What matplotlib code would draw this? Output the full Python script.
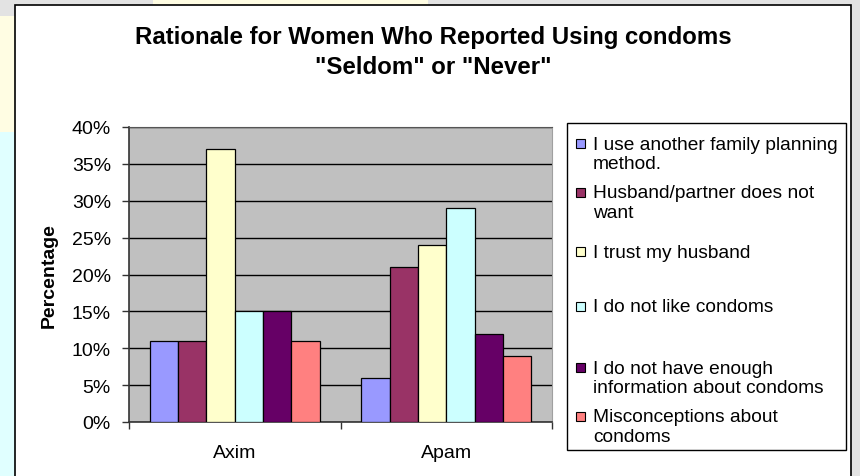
import matplotlib
matplotlib.use("Agg")
import matplotlib.pyplot as plt
from matplotlib.patches import Rectangle
import numpy as np

categories = ["Axim", "Apam"]
series_names = [
    "I use another family planning\nmethod.",
    "Husband/partner does not\nwant",
    "I trust my husband",
    "I do not like condoms",
    "I do not have enough\ninformation about condoms",
    "Misconceptions about\ncondoms",
]
values = {
    "I use another family planning\nmethod.": [11, 6],
    "Husband/partner does not\nwant": [11, 21],
    "I trust my husband": [37, 24],
    "I do not like condoms": [15, 29],
    "I do not have enough\ninformation about condoms": [15, 12],
    "Misconceptions about\ncondoms": [11, 9],
}
colors = ["#9999FF", "#993366", "#FFFFCC", "#CCFFFF", "#660066", "#FF8080"]
yticks = [0, 5, 10, 15, 20, 25, 30, 35, 40]
title = 'Rationale for Women Who Reported Using condoms\n"Seldom" or "Never"'

plt.rcParams['font.family'] = ['Liberation Sans', 'DejaVu Sans']

W, H = 860, 477
fig = plt.figure(figsize=(W / 100, H / 100), dpi=100, facecolor="#e3e3e3")

def px(x, y, w, h):
    # convert pixel box (top-left origin) to figure fraction
    return (x / W, 1 - (y + h) / H, w / W, h / H)

def frect(x, y, w, h, **kw):
    l, b, ww, hh = px(x, y, w, h)
    fig.patches.append(Rectangle((l, b), ww, hh, transform=fig.transFigure, **kw))

# slide background bits
frect(153, 0, 275, 6, facecolor="#fffde3", edgecolor="none", zorder=0)
frect(0, 17, 15, 116, facecolor="#fffde3", edgecolor="none", zorder=0)
frect(0, 133, 15, 344, facecolor="#e0ffff", edgecolor="none", zorder=0)
# chart area
frect(15, 6, 836, 480, facecolor="white", edgecolor="black", linewidth=1.2, zorder=1)

# plot area
ax = fig.add_axes(px(129, 128, 423, 295))
ax.set_zorder(3)
ax.set_facecolor("#C0C0C0")

n = len(series_names)
bw = 0.134
x = np.arange(len(categories))
for j, name in enumerate(series_names):
    ax.bar(x + (j - (n - 1) / 2) * bw, values[name], width=bw, color=colors[j],
           edgecolor="black", linewidth=0.9, zorder=3)

ax.set_xlim(-0.5, 1.5)
ax.set_ylim(0, 40)
ax.set_yticks(yticks)
ax.set_yticklabels([f"{v}%" for v in yticks], fontsize=14)
ax.yaxis.grid(True, color="black", linewidth=1.0, zorder=1)
ax.set_axisbelow(True)
ax.tick_params(axis="y", direction="out", length=5, width=1, color="#333333", pad=8)

ax.set_xticks(x)
ax.set_xticklabels(categories, fontsize=14)
ax.set_xticks([-0.5, 0.5, 1.5], minor=True)
ax.tick_params(axis="x", which="major", length=0, pad=16)
ax.tick_params(axis="x", which="minor", direction="out", length=5, width=1, color="#333333")

for s in ["left", "bottom"]:
    ax.spines[s].set_color("#333333")
    ax.spines[s].set_linewidth(1.2)
ax.spines["top"].set_color("#555555")
ax.spines["right"].set_color("#a0a0a0")

ax.set_ylabel("Percentage", fontsize=14, fontweight="bold", labelpad=10)

fig.text(433 / W, 1 - 52.5 / H, title, ha="center", va="center", fontsize=17.3,
         fontweight="bold", linespacing=1.42, zorder=5)

# legend
frect(567, 124, 279, 327, facecolor="white", edgecolor="black", linewidth=1.0, zorder=2)
entry_first_line = [144, 193, 252, 307, 368, 417]
for j, name in enumerate(series_names):
    yc = entry_first_line[j]
    frect(576, yc - 4.5, 9, 9, facecolor=colors[j], edgecolor="black", linewidth=0.8, zorder=4)
    fig.text(593 / W, 1 - (yc - 7.5) / H, name, ha="left", va="top", fontsize=13.8,
             linespacing=1.2, zorder=5)

fig.savefig("out.png", dpi=100, facecolor=fig.get_facecolor())
